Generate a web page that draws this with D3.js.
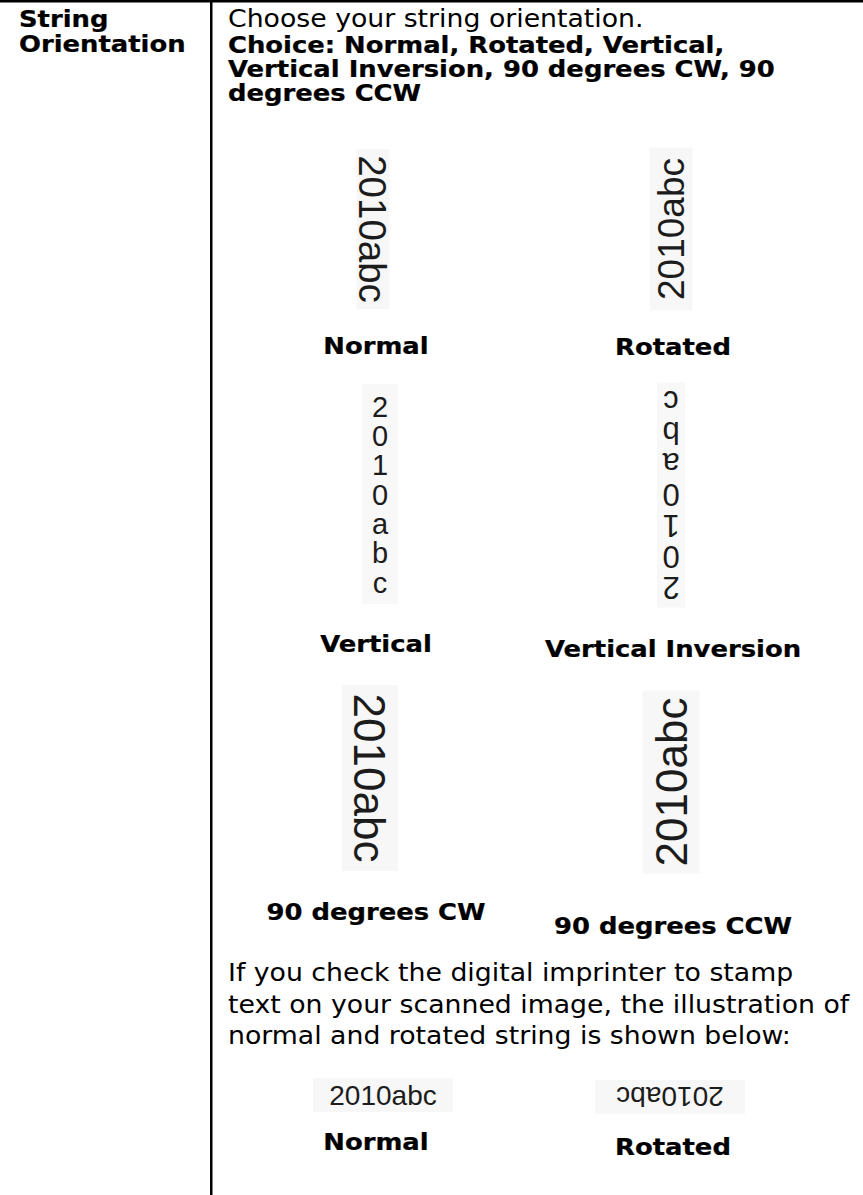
<!DOCTYPE html>
<html>
<head>
<meta charset="utf-8">
<script src="https://cdn.jsdelivr.net/npm/d3@7"></script>
<style>
  body { margin: 0; background: #fff; }
</style>
</head>
<body>
<script>
// table text
var titleLines = ["String", "Orientation"];
var introLine = "Choose your string orientation.";
var choiceLines = ["Choice: Normal, Rotated, Vertical,",
                   "Vertical Inversion, 90 degrees CW, 90",
                   "degrees CCW"];
var noteLines = ["If you check the digital imprinter to stamp",
                 "text on your scanned image, the illustration of",
                 "normal and rotated string is shown below:"];
var sampleText = "2010abc";
var modeLabels = ["Normal", "Rotated", "Vertical", "Vertical Inversion", "90 degrees CW", "90 degrees CCW"];
var stampLabels = ["Normal", "Rotated"];

var W = 863, H = 1195;
var SX = 1.1; // page is a bit wider than the font
var docFont = "'DejaVu Sans', Verdana, sans-serif";
var imgFont = "'Liberation Sans', Arial, sans-serif";

var svg = d3.select("body").append("svg")
    .attr("width", W)
    .attr("height", H);

svg.append("rect").attr("width", W).attr("height", H).attr("fill", "#fff");

// table rules
svg.append("rect").attr("x", 0).attr("y", 0).attr("width", W).attr("height", 2.5).attr("fill", "#000");
svg.append("rect").attr("x", 210).attr("y", 0).attr("width", 2.5).attr("height", H).attr("fill", "#000");

// two columns of examples
var col = d3.scalePoint().domain(["left", "right"]).range([376, 673]);

function docText(str, x, y, bold, size, anchor) {
  return svg.append("text")
    .attr("transform", "translate(" + x + "," + y + ") scale(" + SX + ",1)")
    .attr("text-anchor", anchor || "start")
    .attr("font-family", docFont)
    .attr("font-weight", bold ? "bold" : "normal")
    .attr("font-size", size)
    .attr("fill", "#000")
    .attr("stroke", bold ? "#000" : "none")
    .attr("stroke-width", 0.25)
    .text(str);
}

var lineY = d3.scaleLinear().domain([0, 1]).range([0, 25]);

titleLines.forEach(function(t, i) { docText(t, 19, 27 + lineY(i), true, 23.5); });
docText(introLine, 228, 27, false, 24.3);
choiceLines.forEach(function(t, i) { docText(t, 228, 53 + i * 24, true, 23.5); });

var noteY = d3.scaleLinear().domain([0, 2]).range([981, 1044]);
noteLines.forEach(function(t, i) { docText(t, 228, noteY(i), false, 24.3); });

// scanned samples
function sample(cx, cy, rot, size, bw, bh) {
  var g = svg.append("g").attr("transform", "translate(" + cx + "," + cy + ") rotate(" + rot + ")");
  g.append("rect")
    .attr("x", -bw / 2).attr("y", -bh / 2)
    .attr("width", bw).attr("height", bh)
    .attr("fill", "#f7f7f7");
  g.append("text")
    .attr("text-anchor", "middle")
    .attr("y", 0.358 * size)
    .attr("font-family", imgFont)
    .attr("font-size", size)
    .attr("fill", "#1c1c1c")
    .text(sampleText);
}

function stack(cx, cy, rot, size, sp, bw, bh) {
  var chars = sampleText.split("");
  var y = d3.scalePoint().domain(d3.range(chars.length)).range([-3 * sp, 3 * sp]);
  var g = svg.append("g").attr("transform", "translate(" + cx + "," + cy + ") rotate(" + rot + ")");
  g.append("rect")
    .attr("x", -bw / 2).attr("y", -bh / 2)
    .attr("width", bw).attr("height", bh)
    .attr("fill", "#f8f8f8");
  g.selectAll("text")
    .data(chars)
    .enter().append("text")
    .attr("text-anchor", "middle")
    .attr("y", function(d, i) { return y(i) + 0.37 * size; })
    .attr("font-family", imgFont)
    .attr("font-size", size)
    .attr("fill", "#1c1c1c")
    .text(function(d) { return d; });
}

sample(373, 229, 90, 38.5, 160, 33);
sample(671, 229, -90, 37, 163, 43);
stack(380, 494, 0, 29, 29.3, 36, 220);
stack(671, 495, 180, 31, 31, 28, 225);
sample(370, 778, 90, 44, 186, 56);
sample(671, 782, -90, 44, 183, 57);
sample(383, 1095, 0, 28, 140, 34);
sample(670, 1097, 180, 28, 150, 34);

// captions
var capY = [354, 355, 652, 657, 920, 934];
modeLabels.forEach(function(t, i) {
  docText(t, col(i % 2 ? "right" : "left"), capY[i], true, 23.5, "middle");
});
stampLabels.forEach(function(t, i) {
  docText(t, col(i ? "right" : "left"), i ? 1155 : 1150, true, 23.5, "middle");
});
</script>
</body>
</html>
